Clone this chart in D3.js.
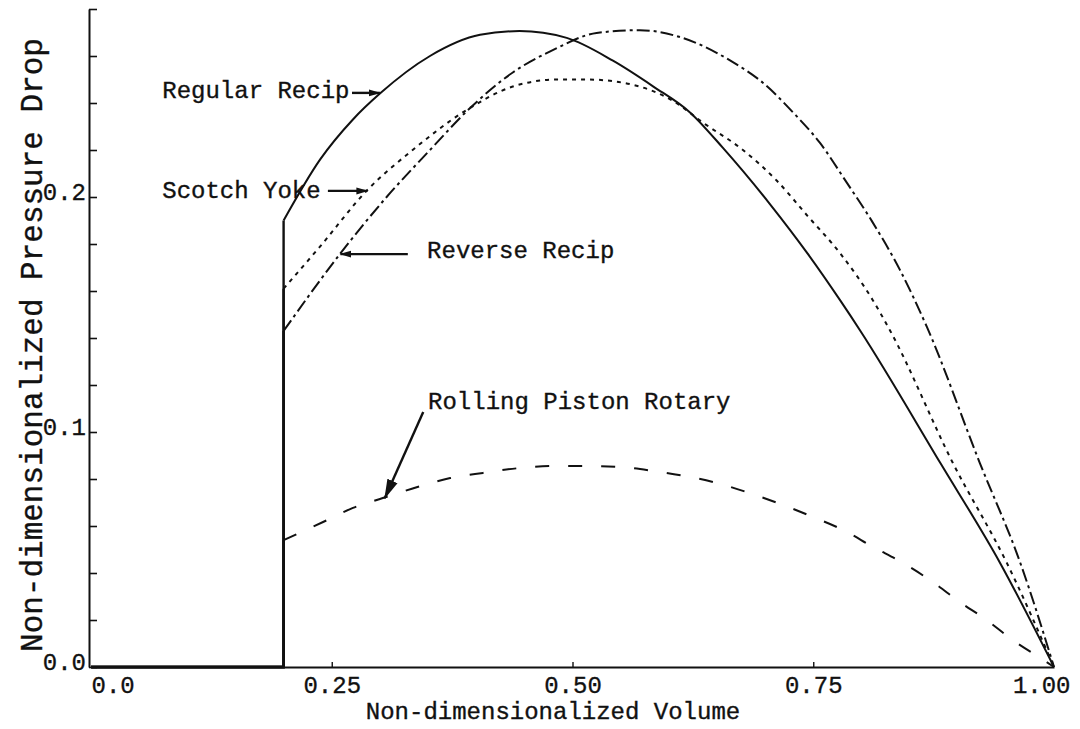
<!DOCTYPE html>
<html lang='en'>
<head>
<meta charset='UTF-8'>
<script src='https://d3js.org/d3.v7.min.js'></script>
<title>Pressure Drop vs Volume</title>
<style>
  body { margin: 0; background: #fff; }
  text { font-family: 'Courier New', 'Liberation Mono', monospace; fill: #111; stroke: #111; stroke-width: 0.35px; }
</style>
</head>
<body>
<svg id='chart' width='1080' height='729'></svg>
<script>
// curves, [volume, pressure drop]; each starts after the jump at v = 0.2
const regularRecip = [[0.2,0.19],[0.238,0.216],[0.272,0.233],[0.300,0.244],[0.352,0.260],
  [0.404,0.269],[0.445,0.2706],[0.494,0.2677],[0.542,0.258],[0.584,0.247],[0.622,0.236],[0.656,0.221],
  [0.705,0.197],[0.744,0.176],[0.778,0.156],[0.799,0.143],[0.882,0.0868],[0.944,0.0443],[1.0,0]]
const scotchYoke = [[0.2,0.161],[0.238,0.179],[0.287,0.203],[0.334,0.220],[0.390,0.237],[0.438,0.247],
  [0.484,0.250],[0.515,0.250],[0.560,0.248],[0.604,0.241],[0.636,0.2315],[0.677,0.220],[0.712,0.207],
  [0.744,0.192],[0.778,0.176],[0.812,0.156],[0.830,0.143],[0.895,0.0868],[0.951,0.0443],[1.0,0]]
const reverseRecip = [[0.2,0.143],[0.259,0.176],[0.307,0.200],[0.352,0.220],[0.394,0.238],[0.438,0.253],
  [0.480,0.2626],[0.525,0.2698],[0.570,0.271],[0.612,0.268],[0.664,0.258],[0.698,0.2485],[0.729,0.236],
  [0.757,0.223],[0.785,0.206],[0.812,0.189],[0.840,0.169],[0.868,0.1447],[0.923,0.0868],[0.965,0.0443],[1.0,0]]
const rollingPiston = [[0.2,0.054],[0.241,0.0617],[0.272,0.0677],[0.303,0.0719],[0.339,0.0766],[0.373,0.0804],
  [0.407,0.0826],[0.446,0.0847],[0.480,0.0855],[0.515,0.0855],[0.549,0.0851],[0.584,0.0834],[0.650,0.0783],
  [0.684,0.074],[0.719,0.0689],[0.750,0.0638],[0.781,0.0583],[0.812,0.0511],[0.843,0.0443],[0.874,0.0362],
  [0.902,0.0277],[0.930,0.020],[0.957,0.0115],[0.989,0.003],[1.0,0]]

const xTicks = [0, 0.25, 0.5, 0.75, 1.0]
const yLabels = [0, 0.1, 0.2]
const yMinor = d3.range(0, 0.2801, 0.02)

// label text, where it starts, and the arrow from/to, all in data units
const notes = [
  {text: 'Regular Recip', at: [0.074, 0.242], from: [0.271, 0.2443], to: [0.300, 0.2443], head: 'small'},
  {text: 'Scotch Yoke', at: [0.074, 0.1996], from: [0.246, 0.2026], to: [0.287, 0.2026], head: 'small'},
  {text: 'Reverse Recip', at: [0.349, 0.174], from: [0.329, 0.1757], to: [0.259, 0.1757], head: 'small'},
  {text: 'Rolling Piston Rotary', at: [0.350, 0.110], from: [0.345, 0.1085], to: [0.305, 0.0718], head: 'big'}
]

const series = [
  {data: regularRecip, dash: null},
  {data: scotchYoke, dash: '4,5'},
  {data: reverseRecip, dash: '13,4,3,4'},
  {data: rollingPiston, dash: '14,19'}
]

const svg = d3.select('#chart')
const x = d3.scaleLinear().domain([0, 1]).range([91, 1054])
const y = d3.scaleLinear().domain([0, 0.28]).range([667, 9])
const mono = "'Courier New', 'Liberation Mono', monospace"

svg.append('rect').attr('width', 1080).attr('height', 729).attr('fill', '#fff')

// y axis: inward ticks every 0.02, labels at 0.1 steps
const yAxis = svg.append('g').attr('transform', 'translate(89,0)')
  .call(d3.axisRight(y).tickValues(yMinor).tickSize(8).tickSizeOuter(0).tickFormat(''))
yAxis.select('.domain').attr('stroke', '#111').attr('stroke-width', 2)
yAxis.selectAll('.tick line').attr('stroke', '#111').attr('stroke-width', 1.6)

const yLab = svg.append('g').attr('transform', 'translate(89,0)')
  .call(d3.axisLeft(y).tickValues(yLabels).tickSize(0).tickPadding(3).tickFormat(d3.format('.1f')))
yLab.select('.domain').remove()
yLab.selectAll('text').attr('font-size', 24).attr('dy', '0.1em').style('font-family', mono)

// x axis; the end labels sit inside the ticks like on the scan
const xAxis = svg.append('g').attr('transform', 'translate(0,667)')
  .call(d3.axisBottom(x).tickValues(xTicks).tickSize(0).tickPadding(9)
    .tickFormat(d => d === 0 ? '0.0' : d3.format('.2f')(d)))
xAxis.select('.domain').attr('stroke', '#111').attr('stroke-width', 2)
xAxis.selectAll('text').attr('font-size', 24).style('font-family', mono)
  .attr('text-anchor', d => d === 0 ? 'start' : (d === 1 ? 'end' : 'middle'))
  .attr('dx', d => d === 1 ? 16 : 0)

svg.append('g').attr('transform', 'translate(0,667)')
  .call(d3.axisTop(x).tickValues(xTicks.slice(1, 4)).tickSize(5).tickFormat(''))
  .call(g => g.select('.domain').remove())
  .selectAll('line').attr('stroke', '#111').attr('stroke-width', 1.4)

// curves: flat along zero, straight up at the jump, then the smooth body
const body = d3.line().x(d => x(d[0])).y(d => y(d[1])).curve(d3.curveMonotoneX)
const lead = d3.line().x(d => x(d[0])).y(d => y(d[1]))

series.forEach(s => {
  const first = s.data[0]
  svg.append('path')
    .attr('d', lead([[0, 0], [first[0], 0], first]))
    .attr('fill', 'none').attr('stroke', '#111').attr('stroke-width', 2.4)
  svg.append('path')
    .attr('d', body(s.data))
    .attr('fill', 'none').attr('stroke', '#111').attr('stroke-width', 2)
    .attr('stroke-dasharray', s.dash)
})

// arrowheads
const defs = svg.append('defs')
defs.append('marker').attr('id', 'small').attr('viewBox', '0 0 12 8')
  .attr('refX', 11).attr('refY', 4).attr('markerWidth', 12).attr('markerHeight', 8)
  .attr('markerUnits', 'userSpaceOnUse').attr('orient', 'auto')
  .append('path').attr('d', 'M0,0.5 L12,4 L0,7.5 Z').attr('fill', '#111')
defs.append('marker').attr('id', 'big').attr('viewBox', '0 0 20 12')
  .attr('refX', 19).attr('refY', 6).attr('markerWidth', 20).attr('markerHeight', 12)
  .attr('markerUnits', 'userSpaceOnUse').attr('orient', 'auto')
  .append('path').attr('d', 'M0,0.5 L20,6 L0,11.5 Z').attr('fill', '#111')

notes.forEach(n => {
  svg.append('text').attr('x', x(n.at[0])).attr('y', y(n.at[1]))
    .attr('font-size', 24).text(n.text)
  svg.append('line')
    .attr('x1', x(n.from[0])).attr('y1', y(n.from[1]))
    .attr('x2', x(n.to[0])).attr('y2', y(n.to[1]))
    .attr('stroke', '#111').attr('stroke-width', 2.4)
    .attr('marker-end', `url(#${n.head})`)
})

// axis titles
svg.append('text').attr('x', 553).attr('y', 719).attr('text-anchor', 'middle')
  .attr('font-size', 24).text('Non-dimensionalized Volume')
svg.append('text').attr('transform', 'translate(42,345) rotate(-90)').attr('text-anchor', 'middle')
  .attr('font-size', 31).text('Non-dimensionalized Pressure Drop')
</script>
</body>
</html>
